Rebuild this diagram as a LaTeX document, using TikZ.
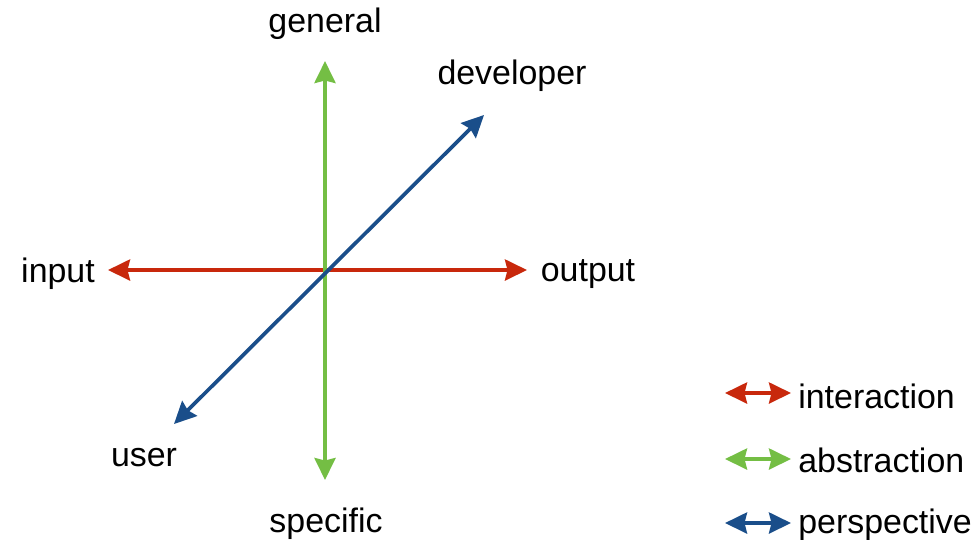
\documentclass[tikz,border=0pt]{standalone}
\usepackage{fontspec}
\setmainfont{Liberation Sans}
\usetikzlibrary{arrows.meta}
\definecolor{AxRed}{HTML}{C8280C}
\definecolor{AxGreen}{HTML}{74BE44}
\definecolor{AxBlue}{HTML}{1A4E8A}

\begin{document}
\begin{tikzpicture}[x=0.02cm,y=-0.02cm,line cap=butt,
    axis/.style={{Stealth[length=4.4mm,width=4.2mm,inset=0.5mm]}-{Stealth[length=4.4mm,width=4.2mm,inset=0.5mm]},line width=2.1pt},
    lbl/.style={font=\fontsize{19.3}{23}\selectfont,inner sep=0pt}]
  \useasboundingbox (0,0) rectangle (976,539);
  % axis end points
  \coordinate (o) at (325,270);
  \coordinate (in) at (108,270);
  \coordinate (out) at (527,270);
  \coordinate (gen) at (325,61);
  \coordinate (spec) at (325,480);
  \coordinate (usr) at (174,424);
  \coordinate (dev) at (484,115);
  \draw[axis,AxRed] (in) -- (out);
  \draw[axis,AxGreen] (gen) -- (spec);
  \draw[axis,AxBlue] (usr) -- (dev);
  % axis labels
  \node[lbl] (general) at (325,24) {general};
  \node[lbl] (specific) at (326,524) {specific};
  \node[lbl] (input) at (58,274) {input};
  \node[lbl] (output) at (588,274) {output};
  \node[lbl] (developer) at (512,76) {developer};
  \node[lbl] (user) at (144,458) {user};
  % legend
  \coordinate (l1a) at (725,393); \coordinate (l1b) at (791,393);
  \coordinate (l2a) at (725,459); \coordinate (l2b) at (791,459);
  \coordinate (l3a) at (725,523); \coordinate (l3b) at (791,523);
  \draw[axis,AxRed] (l1a) -- (l1b);
  \draw[axis,AxGreen] (l2a) -- (l2b);
  \draw[axis,AxBlue] (l3a) -- (l3b);
  \node[lbl,anchor=west] (interaction) at (798,396) {interaction};
  \node[lbl,anchor=west] (abstraction) at (798,460) {abstraction};
  \node[lbl,anchor=west] (perspective) at (798,525) {perspective};
\end{tikzpicture}
\end{document}
